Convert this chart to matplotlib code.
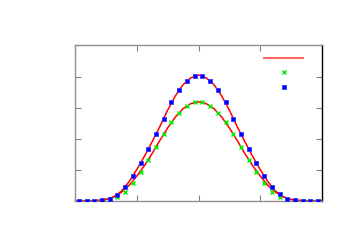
import matplotlib
matplotlib.use("Agg")
import matplotlib.pyplot as plt
import numpy as np

# data point positions (x) and measured values
x_pts = [-3.875, -3.625, -3.375, -3.125, -2.875, -2.625, -2.375, -2.125,
         -1.875, -1.625, -1.375, -1.125, -0.875, -0.625, -0.375, -0.125,
         0.125, 0.375, 0.625, 0.875, 1.125, 1.375, 1.625, 1.875,
         2.125, 2.375, 2.625, 2.875, 3.125, 3.375, 3.625, 3.875]
blue_vals = [0.0, 0.0, 0.0, 0.02, 0.07, 0.20, 0.45, 0.81,
             1.22, 1.67, 2.15, 2.65, 3.17, 3.57, 3.87, 4.02,
             4.02, 3.87, 3.57, 3.17, 2.65, 2.15, 1.67, 1.22,
             0.81, 0.44, 0.21, 0.07, 0.02, 0.0, 0.0, 0.0]
green_vals = [0.0, 0.0, 0.0, 0.01, 0.05, 0.14, 0.30, 0.59,
              0.93, 1.32, 1.73, 2.16, 2.53, 2.83, 3.04, 3.17,
              3.17, 3.04, 2.83, 2.53, 2.16, 1.73, 1.32, 0.93,
              0.59, 0.30, 0.12, 0.03, 0.01, 0.0, 0.0, 0.0]

# fitted curves (red), read at x = -4 .. 4
x_fit = [-4.0, -3.75, -3.5, -3.25, -3.0, -2.75, -2.5, -2.25, -2.0, -1.75,
         -1.5, -1.25, -1.0, -0.75, -0.5, -0.25, 0.0, 0.25, 0.5, 0.75, 1.0,
         1.25, 1.5, 1.75, 2.0, 2.25, 2.5, 2.75, 3.0, 3.25, 3.5, 3.75, 4.0]
fit_blue = [0.0, 0.0, 0.005, 0.015, 0.045, 0.13, 0.31, 0.62, 1.01, 1.44,
            1.91, 2.40, 2.92, 3.38, 3.74, 3.96, 4.05, 3.96, 3.74, 3.38, 2.92,
            2.40, 1.91, 1.44, 1.01, 0.62, 0.31, 0.13, 0.045, 0.015, 0.005, 0.0, 0.0]
fit_green = [0.0, 0.0, 0.005, 0.02, 0.05, 0.13, 0.28, 0.50, 0.80, 1.14,
             1.53, 1.95, 2.35, 2.70, 2.97, 3.13, 3.19, 3.13, 2.97, 2.70, 2.35,
             1.95, 1.53, 1.14, 0.80, 0.50, 0.28, 0.13, 0.05, 0.02, 0.005, 0.0, 0.0]

x_ticks = [-4, -2, 0, 2, 4]
y_ticks = [0, 1, 2, 3, 4, 5]

fig = plt.figure(figsize=(3.5, 2.5), dpi=100)
ax = fig.add_axes([75/350, 49/250, (322-75)/350, (201-45.5)/250])

fit_line, = ax.plot(x_fit, fit_blue, color='#ff0000', lw=1.1, zorder=2)
ax.plot(x_fit, fit_green, color='#ff0000', lw=1.1, zorder=2)
g, = ax.plot(x_pts, green_vals, linestyle='none', marker='x', color='#00ee00',
             markersize=3.2, mew=1.0, zorder=3)
b, = ax.plot(x_pts, blue_vals, linestyle='none', marker='s', color='#0000ff',
             markersize=3.2, markeredgecolor='#3333ff', mew=0.6, zorder=4)

leg_line = matplotlib.lines.Line2D([], [], color='#ff6666', lw=1.5)
ax.legend([leg_line, g, b], ['', '', ''], loc='upper right', frameon=False,
          fontsize=8, handlelength=3.5, handletextpad=0.0, labelspacing=0.38,
          borderaxespad=0.3, bbox_to_anchor=(0.955, 0.995), numpoints=1)

ax.set_xlim(-4, 4)
ax.set_ylim(0, 5)
ax.set_xticks(x_ticks)
ax.set_yticks(y_ticks)
ax.set_xticklabels([])
ax.set_yticklabels([])
ax.tick_params(direction='in', length=4, width=0.8, color='#808080',
               top=True, right=True)
for s in ['left', 'top', 'bottom']:
    ax.spines[s].set_color('#909090')
    ax.spines[s].set_linewidth(1.0)
ax.spines['right'].set_color('#000000')
ax.spines['right'].set_linewidth(1.0)

fig.savefig('out.png', dpi=100)
